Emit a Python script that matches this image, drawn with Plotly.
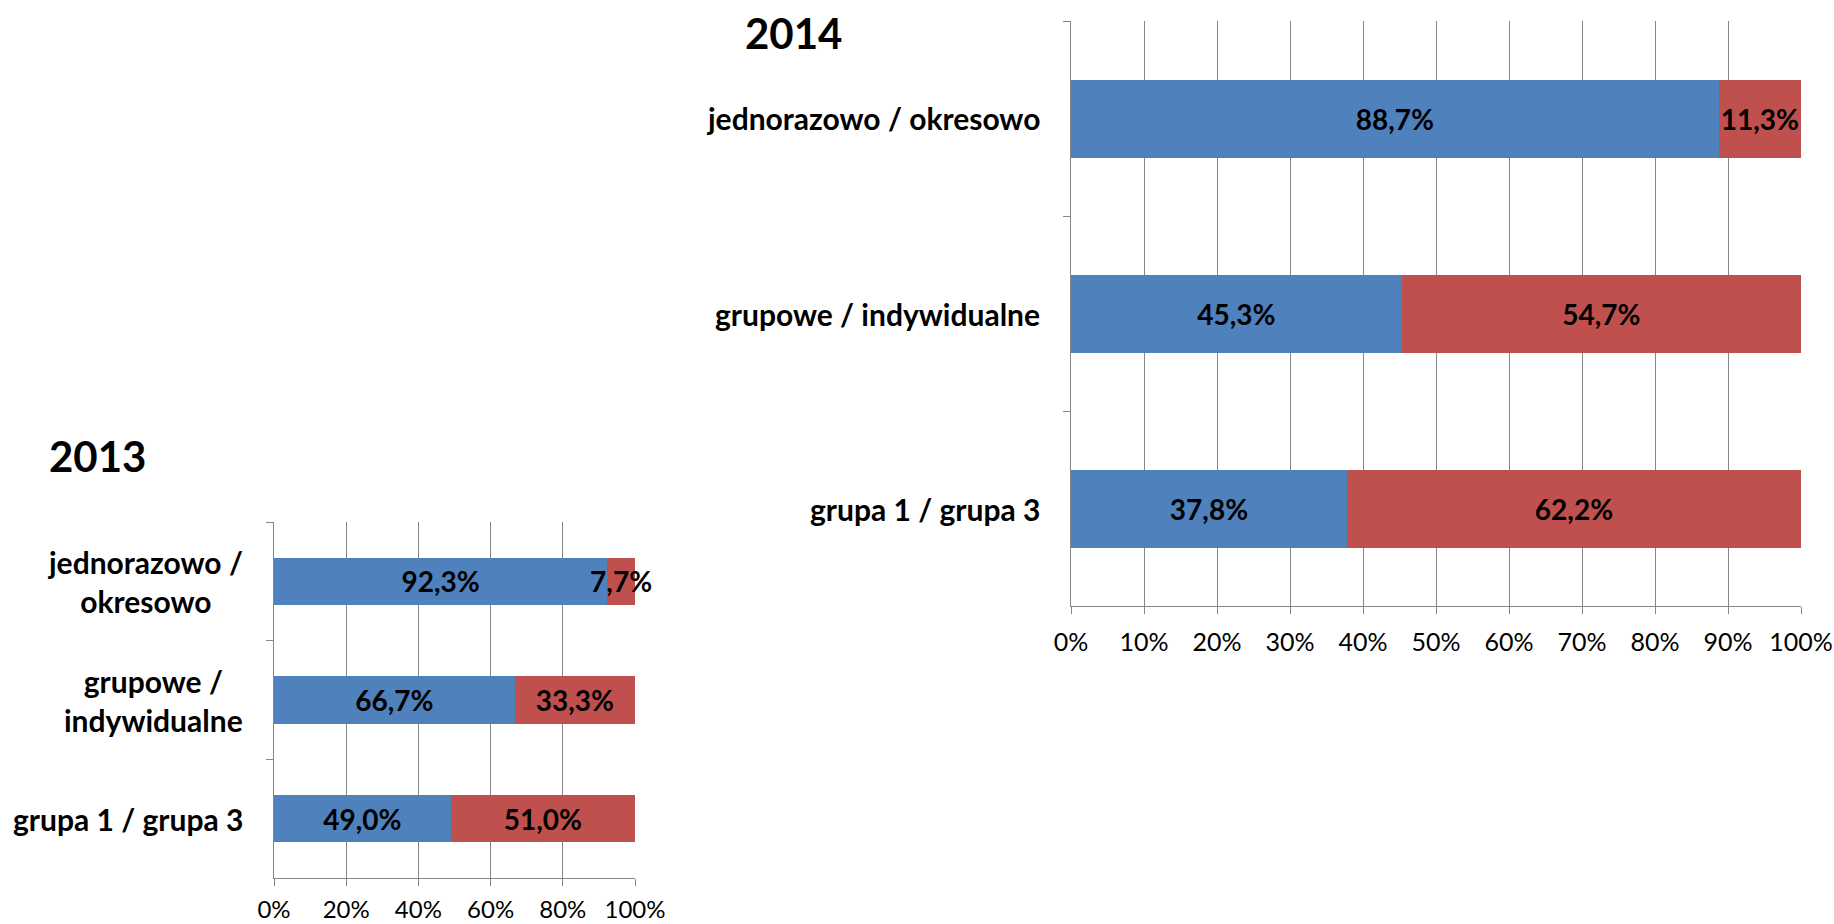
import plotly.graph_objects as go

BLUE = "#4F81BD"
RED = "#C0504D"
GRID = "#868686"
FONT = "Lato, 'Open Sans', sans-serif"

CATEGORIES = ["jednorazowo / okresowo", "grupowe / indywidualne", "grupa 1 / grupa 3"]
LABELS_2013 = ["jednorazowo /<br>okresowo", "grupowe /<br>indywidualne", "grupa 1 / grupa 3"]

FIRST_2013 = [92.3, 66.7, 49.0]
SECOND_2013 = [7.7, 33.3, 51.0]
FIRST_2014 = [88.7, 45.3, 37.8]
SECOND_2014 = [11.3, 54.7, 62.2]

TICKS_2013 = [0, 20, 40, 60, 80, 100]
TICKS_2014 = [0, 10, 20, 30, 40, 50, 60, 70, 80, 90, 100]


def pct(values):
    # polish decimal comma
    return [f"{v:.1f}%".replace(".", ",") for v in values]


W, H = 1834, 924


def px(x):
    return x / W


def py(y):
    return 1 - y / H


fig = go.Figure()

for xa, ya, first, second in [("x", "y", FIRST_2013, SECOND_2013),
                              ("x2", "y2", FIRST_2014, SECOND_2014)]:
    for vals, color in [(first, BLUE), (second, RED)]:
        fig.add_trace(go.Bar(
            x=vals, y=CATEGORIES, orientation="h",
            xaxis=xa, yaxis=ya,
            marker=dict(color=color, line=dict(width=0)),
            text=pct(vals), textposition="inside", insidetextanchor="middle",
            constraintext="none", textangle=0, cliponaxis=False,
            textfont=dict(family=FONT, size=28, color="black", weight="bold"),
            showlegend=False, hoverinfo="skip",
        ))

x_common = dict(
    range=[0, 100], showgrid=True, gridcolor=GRID, gridwidth=1,
    showline=True, linecolor=GRID, linewidth=1, zeroline=False,
    ticks="outside", ticklen=7, tickcolor=GRID,
    tickfont=dict(family=FONT, size=25, color="black"),
    ticklabelstandoff=7, fixedrange=True, automargin=False,
)
y_common = dict(
    type="category", autorange="reversed", tickson="boundaries",
    ticks="outside", ticklen=7, tickcolor=GRID,
    showline=True, linecolor=GRID, linewidth=1,
    showgrid=False, showticklabels=False, fixedrange=True, automargin=False,
)

fig.update_layout(
    width=W, height=H,
    margin=dict(l=0, r=0, t=0, b=0),
    paper_bgcolor="white", plot_bgcolor="white",
    barmode="stack", bargap=0.6,
    font=dict(family=FONT, color="black"),
    # 2013 chart sits at the bottom edge, so its tick labels are pulled in a bit
    xaxis=dict(x_common, domain=[px(274), px(635)], anchor="y",
               tickvals=TICKS_2013, ticktext=[f"{t}%" for t in TICKS_2013],
               ticklabelstandoff=3, tickfont=dict(family=FONT, size=24, color="black")),
    yaxis=dict(y_common, domain=[py(878), py(522)], anchor="x"),
    xaxis2=dict(x_common, domain=[px(1071), px(1801)], anchor="y2",
                tickvals=TICKS_2014, ticktext=[f"{t}%" for t in TICKS_2014]),
    yaxis2=dict(y_common, domain=[py(606), py(21)], anchor="x2"),
)

# chart titles
fig.add_annotation(text="2013", xref="paper", yref="paper", x=px(97), y=py(456),
                   xanchor="center", yanchor="middle",
                   showarrow=False, font=dict(size=42, weight="bold"))
fig.add_annotation(text="2014", xref="paper", yref="paper", x=px(793), y=py(33),
                   xanchor="center", yanchor="middle",
                   showarrow=False, font=dict(size=42, weight="bold"))

# category labels
for cat, lab in zip(CATEGORIES, LABELS_2013):
    fig.add_annotation(text=lab, xref="paper", yref="y", x=px(245), y=cat,
                       xanchor="right", yanchor="middle", align="center",
                       showarrow=False, font=dict(size=30, weight="bold"))
for cat in CATEGORIES:
    fig.add_annotation(text=cat, xref="paper", yref="y2", x=px(1042), y=cat,
                       xanchor="right", yanchor="middle", align="right",
                       showarrow=False, font=dict(size=30, weight="bold"))

# drop the default body margin so the figure sits at the page origin
fig.write_html("out.html", config={"displayModeBar": False},
               post_script="document.body.style.margin='0';"
                           "document.body.style.overflow='hidden';")
